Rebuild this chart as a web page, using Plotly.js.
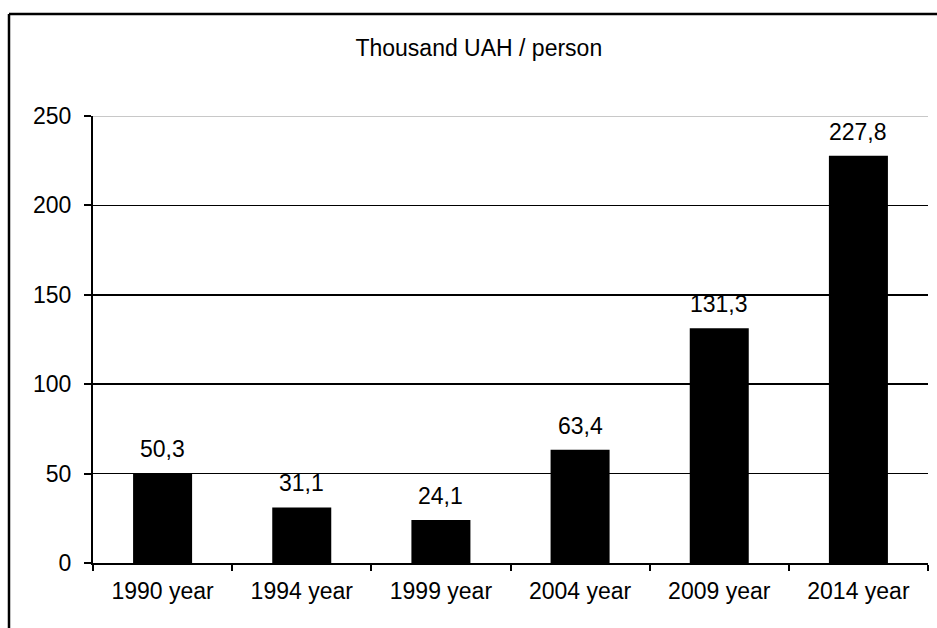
<!DOCTYPE html>
<html>
<head>
<meta charset="utf-8">
<script src="https://cdn.plot.ly/plotly-3.0.1.min.js"></script>
<style>
html,body{margin:0;padding:0;background:#fff;}
#chart{width:937px;height:628px;}
</style>
</head>
<body>
<div id="chart"></div>
<script>
const categories = ["1990 year", "1994 year", "1999 year", "2004 year", "2009 year", "2014 year"];
const values = [50.3, 31.1, 24.1, 63.4, 131.3, 227.8];
const yTicks = [0, 50, 100, 150, 200, 250];
const chartTitle = "Thousand UAH / person";

const FONT = "Liberation Sans, Arial, sans-serif";
const FS = 23;

const trace = {
  type: "bar",
  x: categories,
  y: values,
  marker: {color: "#000000", line: {width: 0}},
  hoverinfo: "none"
};

const labels = categories.map((c, i) => ({
  x: c,
  y: values[i],
  xref: "x",
  yref: "y",
  text: values[i].toFixed(1).replace(".", ","),
  showarrow: false,
  yanchor: "bottom",
  xanchor: "center",
  yshift: 9,
  font: {family: FONT, size: FS, color: "#000"}
}));

const layout = {
  width: 937,
  height: 628,
  margin: {l: 93, r: 9, t: 116, b: 65},
  paper_bgcolor: "#fff",
  plot_bgcolor: "#fff",
  showlegend: false,
  bargap: 0.576,
  font: {family: FONT, size: FS, color: "#000"},
  title: {
    text: chartTitle,
    font: {family: FONT, size: FS, color: "#000"},
    xref: "container", yref: "container",
    x: 0.511, xanchor: "center",
    y: 0.923, yanchor: "middle"
  },
  xaxis: {
    type: "category",
    tickson: "boundaries",
    ticks: "outside",
    ticklen: 6,
    tickwidth: 2,
    tickcolor: "#000",
    showline: true,
    linecolor: "#000",
    linewidth: 2,
    showgrid: false,
    zeroline: false,
    ticklabelstandoff: 6,
    tickfont: {family: FONT, size: FS, color: "#000"}
  },
  yaxis: {
    range: [0, 250],
    tickvals: yTicks,
    ticks: "outside",
    ticklen: 7,
    tickwidth: 2,
    tickcolor: "#000",
    showline: true,
    linecolor: "#000",
    linewidth: 2,
    showgrid: true,
    gridcolor: "#000",
    gridwidth: 1.5,
    zeroline: false,
    ticklabelstandoff: 8,
    tickfont: {family: FONT, size: FS, color: "#000"}
  },
  annotations: labels,
  shapes: [
    {type: "line", xref: "paper", yref: "y", x0: 0, x1: 1, y0: 250, y1: 250,
     line: {color: "#c8c8c8", width: 2}, layer: "above"},
    {type: "line", xref: "paper", yref: "paper", x0: -0.1006, x1: 1.2, y0: 1.228, y1: 1.228,
     line: {color: "#000", width: 2.5}},
    {type: "line", xref: "paper", yref: "paper", x0: -0.1006, x1: -0.1006, y0: 1.228, y1: -0.3,
     line: {color: "#000", width: 2.5}}
  ]
};

Plotly.newPlot("chart", [trace], layout, {staticPlot: true, displayModeBar: false});
</script>
</body>
</html>
